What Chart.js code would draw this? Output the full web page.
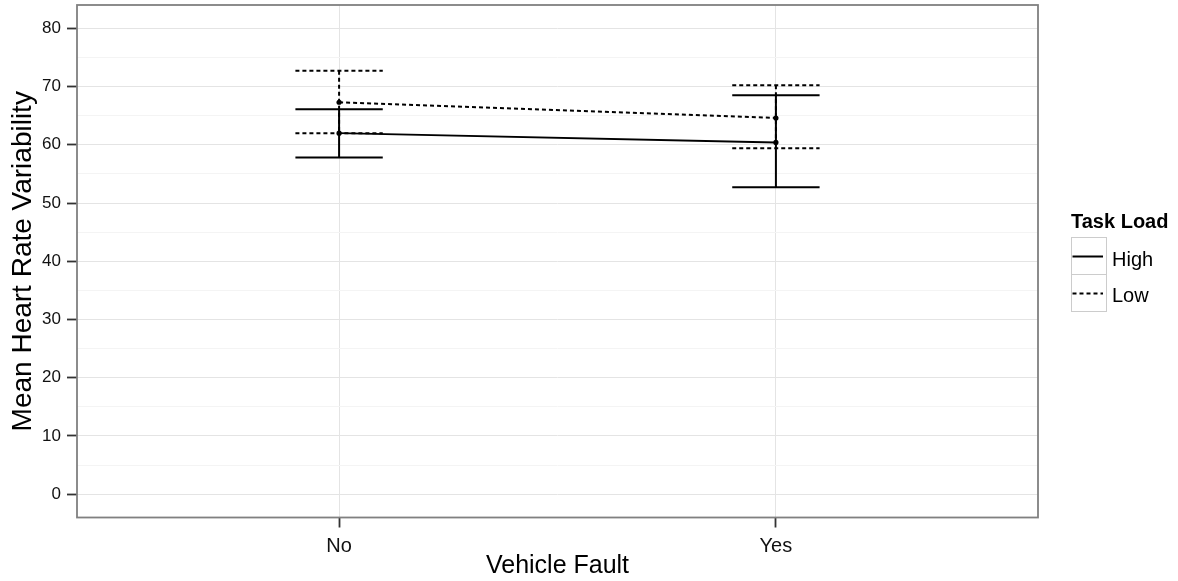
<!DOCTYPE html>
<html>
<head>
<meta charset="utf-8">
<script src="https://cdn.jsdelivr.net/npm/chart.js@4/dist/chart.umd.min.js"></script>
<style>
  html, body { margin: 0; padding: 0; background: #ffffff; }
  #wrap { position: relative; width: 1178px; height: 581px; font-family: "Liberation Sans", Arial, sans-serif; }
  #chart { position: absolute; left: 0; top: 0; }
  .legend-title { position: absolute; font-weight: bold; font-size: 20px; line-height: 20px; color: #000; white-space: nowrap; }
  .legend-key { position: absolute; box-sizing: border-box; border: 1.5px solid #cccccc; background: #fff; }
  .legend-label { position: absolute; font-size: 20px; line-height: 20px; color: #000; white-space: nowrap; }
</style>
</head>
<body>
<div id="wrap">
  <canvas id="chart" width="1178" height="581"></canvas>
</div>
<script>
// Categories on the x axis
const categories = ['No', 'Yes'];
// Series (task load levels)
const seriesNames = ['High', 'Low'];
// Mean heart rate variability per category, with error bar limits
const highMean  = [62.0, 60.4];
const highLower = [57.8, 52.7];
const highUpper = [66.1, 68.5];
const lowMean   = [67.3, 64.6];
const lowLower  = [62.0, 59.4];
const lowUpper  = [72.7, 70.2];
// Axis ticks
const yMajorTicks = [0, 10, 20, 30, 40, 50, 60, 70, 80];
const yMinorTicks = [5, 15, 25, 35, 45, 55, 65, 75];

const FONT = '"Liberation Sans", Arial, sans-serif';
const DASH = [4, 3];

const series = [
  { name: seriesNames[0], mean: highMean, lower: highLower, upper: highUpper, dash: [] },
  { name: seriesNames[1], mean: lowMean,  lower: lowLower,  upper: lowUpper,  dash: DASH }
];

// Error bars (stems + caps) drawn through the chart scales
const errorBars = {
  id: 'errorBars',
  beforeDatasetsDraw(chart) {
    const { ctx, scales: { x, y } } = chart;
    const capHalf = 0.1; // cap half-width in x units
    ctx.save();
    ctx.strokeStyle = '#000';
    ctx.lineWidth = 2;
    series.forEach(s => {
      ctx.setLineDash(s.dash);
      categories.forEach((c, i) => {
        const xv = i + 1;
        const px = x.getPixelForValue(xv);
        const pLo = y.getPixelForValue(s.lower[i]);
        const pHi = y.getPixelForValue(s.upper[i]);
        const xl = x.getPixelForValue(xv - capHalf);
        const xr = x.getPixelForValue(xv + capHalf);
        ctx.beginPath();
        ctx.moveTo(px, pHi); ctx.lineTo(px, pLo);
        ctx.moveTo(xl, pHi); ctx.lineTo(xr, pHi);
        ctx.moveTo(xl, pLo); ctx.lineTo(xr, pLo);
        ctx.stroke();
      });
    });
    ctx.restore();
  }
};

// Panel border around the plotting area
const panelBorder = {
  id: 'panelBorder',
  afterDraw(chart) {
    const { ctx, chartArea: a } = chart;
    ctx.save();
    ctx.strokeStyle = '#808080';
    ctx.lineWidth = 1.8;
    ctx.strokeRect(a.left, a.top, a.right - a.left, a.bottom - a.top);
    ctx.restore();
  }
};

const isMajor = v => yMajorTicks.includes(v);

new Chart(document.getElementById('chart'), {
  type: 'scatter',
  data: {
    datasets: series.map(s => ({
      label: s.name,
      data: categories.map((c, i) => ({ x: i + 1, y: s.mean[i] })),
      showLine: true,
      borderColor: '#000',
      borderWidth: 2,
      borderDash: s.dash,
      pointRadius: 2.6,
      pointBackgroundColor: '#000',
      pointBorderWidth: 0,
      pointHoverRadius: 2.6
    }))
  },
  options: {
    responsive: false,
    animation: false,
    devicePixelRatio: 1,
    layout: { padding: { top: 5, right: 140, left: 0, bottom: 0 } },
    plugins: { legend: { display: false }, tooltip: { enabled: false } },
    events: [],
    scales: {
      x: {
        type: 'linear',
        min: 0.4,
        max: 2.6,
        afterBuildTicks: s => { s.ticks = categories.map((c, i) => ({ value: i + 1 })); },
        afterFit: s => { s.height = 63.5; s.paddingLeft = 0; s.paddingRight = 0; },
        ticks: {
          callback: v => categories[v - 1],
          font: { family: FONT, size: 20 },
          color: '#111',
          padding: 7,
          maxRotation: 0,
          autoSkip: false
        },
        grid: { color: '#e4e4e4', lineWidth: 1, tickColor: '#333', tickLength: 10, tickWidth: 1.8 },
        border: { display: false },
        title: {
          display: true,
          text: 'Vehicle Fault',
          font: { family: FONT, size: 25 },
          color: '#000',
          padding: { top: 0, bottom: 0 }
        }
      },
      y: {
        type: 'linear',
        min: -4,
        max: 84,
        afterBuildTicks: s => {
          s.ticks = yMajorTicks.concat(yMinorTicks).sort((a, b) => a - b).map(v => ({ value: v }));
        },
        afterFit: s => { s.width = 77; s.paddingTop = 0; s.paddingBottom = 0; },
        ticks: {
          callback: v => (isMajor(v) ? String(v) : ''),
          font: { family: FONT, size: 17 },
          color: '#111',
          padding: 6,
          autoSkip: false
        },
        grid: {
          color: c => (isMajor(c.tick.value) ? '#e4e4e4' : '#f4f4f4'),
          lineWidth: 1,
          tickColor: c => (isMajor(c.tick.value) ? '#333' : 'rgba(0,0,0,0)'),
          tickLength: 10,
          tickWidth: 1.8
        },
        border: { display: false },
        title: {
          display: true,
          text: 'Mean Heart Rate Variability',
          font: { family: FONT, size: 28 },
          color: '#000',
          padding: { top: 6.5, bottom: 0 }
        }
      }
    }
  },
  plugins: [errorBars, panelBorder]
});

// Legend
(function buildLegend() {
  const wrap = document.getElementById('wrap');
  const title = document.createElement('div');
  title.className = 'legend-title';
  title.textContent = 'Task Load';
  title.style.left = '1071px';
  title.style.top = '211px';
  wrap.appendChild(title);

  const keyLeft = 1070.5, keyTop = 237, keyW = 36, keyH = 37;
  series.forEach((s, i) => {
    const key = document.createElement('div');
    key.className = 'legend-key';
    key.style.left = keyLeft + 'px';
    key.style.top = (keyTop + i * keyH) + 'px';
    key.style.width = keyW + 'px';
    key.style.height = (keyH + 1) + 'px';
    const svgNS = 'http://www.w3.org/2000/svg';
    const svg = document.createElementNS(svgNS, 'svg');
    svg.setAttribute('width', keyW);
    svg.setAttribute('height', keyH);
    svg.style.position = 'absolute';
    svg.style.left = '-1.5px';
    svg.style.top = '-1.5px';
    const line = document.createElementNS(svgNS, 'line');
    line.setAttribute('x1', 2.5);
    line.setAttribute('x2', 33);
    line.setAttribute('y1', keyH / 2 + 1);
    line.setAttribute('y2', keyH / 2 + 1);
    line.setAttribute('stroke', '#000');
    line.setAttribute('stroke-width', 2);
    if (s.dash.length) line.setAttribute('stroke-dasharray', s.dash.join(' '));
    svg.appendChild(line);
    key.appendChild(svg);
    wrap.appendChild(key);

    const label = document.createElement('div');
    label.className = 'legend-label';
    label.textContent = s.name;
    label.style.left = '1112px';
    label.style.top = (249 + i * 36) + 'px';
    wrap.appendChild(label);
  });
})();
</script>
</body>
</html>
